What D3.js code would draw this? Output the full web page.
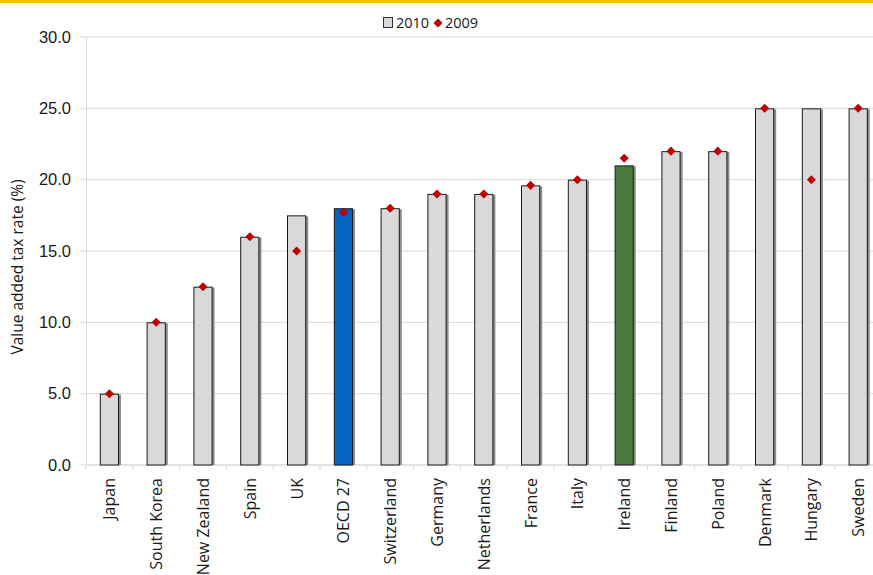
<!DOCTYPE html>
<html>
<head>
<meta charset="utf-8">
<script src="https://cdn.jsdelivr.net/npm/d3@7"></script>
<style>
  body { margin: 0; background: #fff; }
  svg { display: block; font-family: "Open Sans", "Liberation Sans", sans-serif; }
</style>
</head>
<body>
<div id="chart"></div>
<script>
const countries = ["Japan", "South Korea", "New Zealand", "Spain", "UK", "OECD 27", "Switzerland", "Germany",
                   "Netherlands", "France", "Italy", "Ireland", "Finland", "Poland", "Denmark", "Hungary", "Sweden"];
const rate2010 = [5, 10, 12.5, 16, 17.5, 18, 18, 19, 19, 19.6, 20, 21, 22, 22, 25, 25, 25];
const rate2009 = [5, 10, 12.5, 16, 15, 17.7, 18, 19, 19, 19.6, 20, 21.5, 22, 22, 25, 20, 25];
const yTicks = [0, 5, 10, 15, 20, 25, 30];

// special colours for the highlighted bars
const barColor = name => name === "OECD 27" ? "#0563c1" : name === "Ireland" ? "#4a7b3c" : "#d9d9d9";

const w = 873;
const h = 575;
const plotLeft = 86, plotTop = 37, plotBottom = 465;
const bandW = 46.8;

const svg = d3.select("#chart").append("svg")
              .attr("width", w)
              .attr("height", h);

// orange rule along the top
svg.append("rect")
   .attr("x", 0).attr("y", 0)
   .attr("width", w).attr("height", 3)
   .attr("fill", "#ffc000");

const xScale = d3.scaleBand()
                 .domain(countries)
                 .range([plotLeft, plotLeft + bandW * countries.length])
                 .paddingInner(0.59)
                 .paddingOuter(0.295);

const yScale = d3.scaleLinear()
                 .domain([0, 30])
                 .range([plotBottom, plotTop]);

// gridlines
svg.append("g")
   .selectAll("line")
   .data(yTicks)
   .enter().append("line")
   .attr("x1", plotLeft - 6).attr("x2", w)
   .attr("y1", d => yScale(d)).attr("y2", d => yScale(d))
   .attr("stroke", "#d9d9d9")
   .attr("stroke-width", 1);

// y axis
const yAxis = d3.axisLeft(yScale).tickValues(yTicks).tickFormat(d3.format(".1f")).tickSize(0).tickPadding(15);
const yG = svg.append("g")
              .attr("transform", `translate(${plotLeft}, 0)`)
              .call(yAxis);
yG.select(".domain").attr("stroke", "#d9d9d9");
yG.selectAll("text").attr("font-size", 16.5).attr("fill", "#1a1a1a");

// x axis baseline and ticks
const xTickPos = d3.range(countries.length + 1).map(i => plotLeft + i * bandW);
svg.append("line")
   .attr("x1", plotLeft).attr("x2", w)
   .attr("y1", plotBottom).attr("y2", plotBottom)
   .attr("stroke", "#d9d9d9");
svg.append("g")
   .selectAll("line")
   .data(xTickPos)
   .enter().append("line")
   .attr("x1", d => d).attr("x2", d => d)
   .attr("y1", plotBottom).attr("y2", plotBottom + 5)
   .attr("stroke", "#d9d9d9");

// bar shadows
svg.append("g")
   .selectAll("rect")
   .data(countries)
   .enter().append("rect")
   .attr("x", d => xScale(d) + 2)
   .attr("y", (d, i) => yScale(rate2010[i]) + 1)
   .attr("width", xScale.bandwidth())
   .attr("height", (d, i) => plotBottom - yScale(rate2010[i]) - 1)
   .attr("fill", "#8c8c8c");

// bars
svg.append("g")
   .selectAll("rect")
   .data(countries)
   .enter().append("rect")
   .attr("x", d => xScale(d) + 0.5)
   .attr("y", (d, i) => yScale(rate2010[i]) + 0.5)
   .attr("width", xScale.bandwidth() - 1)
   .attr("height", (d, i) => plotBottom - yScale(rate2010[i]) - 0.5)
   .attr("fill", d => barColor(d))
   .attr("stroke", "#1a1a1a")
   .attr("stroke-width", 1);

// 2009 diamonds
const diamond = d3.symbol().type(d3.symbolDiamond2).size(52);
svg.append("g")
   .selectAll("path")
   .data(countries)
   .enter().append("path")
   .attr("d", diamond)
   .attr("transform", (d, i) => `translate(${xScale(d) + xScale.bandwidth() / 2}, ${yScale(rate2009[i])})`)
   .attr("fill", "#c00000");

// category labels
svg.append("g")
   .selectAll("text")
   .data(countries)
   .enter().append("text")
   .attr("transform", d => `translate(${xScale(d) + xScale.bandwidth() / 2 + 6}, 478) rotate(-90)`)
   .attr("text-anchor", "end")
   .attr("font-size", 16)
   .attr("fill", "#1a1a1a")
   .text(d => d);

// y label
svg.append("text")
   .attr("transform", `translate(23, ${(plotTop + plotBottom) / 2 + 16}) rotate(-90)`)
   .attr("text-anchor", "middle")
   .attr("font-size", 15.5)
   .attr("fill", "#1a1a1a")
   .text("Value added tax rate (%)");

// legend
const legend = svg.append("g").attr("transform", "translate(383, 23)");
legend.append("rect")
      .attr("x", 0.5).attr("y", -5.5)
      .attr("width", 9).attr("height", 10)
      .attr("fill", "#d9d9d9").attr("stroke", "#333");
legend.append("text")
      .attr("x", 13).attr("y", 5)
      .attr("font-size", 14.5).attr("fill", "#1a1a1a")
      .text("2010");
legend.append("path")
      .attr("d", diamond)
      .attr("transform", "translate(55, 0)")
      .attr("fill", "#c00000");
legend.append("text")
      .attr("x", 62).attr("y", 5)
      .attr("font-size", 14.5).attr("fill", "#1a1a1a")
      .text("2009");
</script>
</body>
</html>
